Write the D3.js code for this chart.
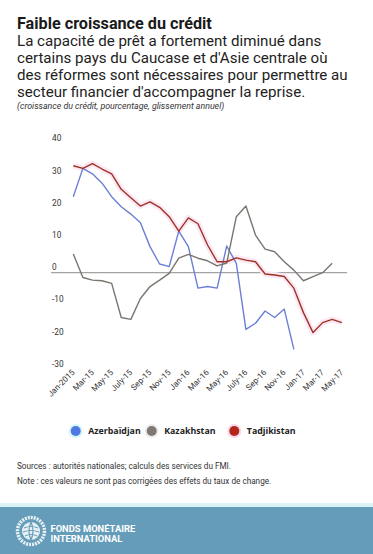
<!DOCTYPE html>
<html>
<head>
<meta charset="utf-8">
<script src="https://cdn.jsdelivr.net/npm/d3@7"></script>
<style>
  html, body { margin: 0; padding: 0; background: #fff; }
  #chart { width: 373px; height: 554px; }
  text { font-family: Roboto, "Noto Sans", sans-serif; }
</style>
</head>
<body>
<div id="chart"></div>
<script>
// ------------- data ----------------- //
const months = [
  '2015-01', '2015-02', '2015-03', '2015-04', '2015-05', '2015-06', '2015-07', '2015-08', '2015-09', '2015-10', '2015-11', '2015-12',
  '2016-01', '2016-02', '2016-03', '2016-04', '2016-05', '2016-06', '2016-07', '2016-08', '2016-09', '2016-10', '2016-11', '2016-12',
  '2017-01', '2017-02', '2017-03', '2017-04', '2017-05'
];
const tickLabels = ['Jan-2015', 'Mar-15', 'May-15', 'July-15', 'Sep-15', 'Nov-15', 'Jan-16', 'Mar-16', 'May-16',
  'July-16', 'Sep-16', 'Nov-16', 'Jan-17', 'Mar-17', 'May-17'];
const yTicks = [40, 30, 20, 10, 0, -10, -20, -30];

// Azerbaidjan: Jan-15 .. Dec-16
const azerbaidjan = [23.6, 32.4, 30.7, 27.8, 23.6, 20.5, 18.2, 15.5, 8.1, 2.7, 1.9, 12.9,
  8.1, -4.8, -4.3, -4.8, 8.3, 2.9, -17.6, -15.7, -11.9, -13.9, -11.3, -23.8];
// Kazakhstan: Jan-15 .. Apr-17
const kazakhstan = [5.8, -1.5, -2.3, -2.5, -3.3, -13.9, -14.5, -8.0, -4.3, -2.3, -0.2, 4.5,
  5.7, 4.5, 3.7, 2.1, 3.0, 17.4, 20.7, 11.7, 7.3, 6.5, 3.4, 0.8, -2.5, -1.2, 0.0, 2.9];
// Tadjikistan: Jan-15 .. May-17
const tadjikistan = [33.2, 32.4, 33.9, 32.2, 30.7, 25.9, 23.3, 20.7, 22.0, 20.3, 17.4, 12.9,
  17.0, 15.2, 8.6, 3.4, 3.4, 4.6, 3.9, 3.4, -0.4, -0.7, -1.2, -4.8, -12.4, -18.6, -15.5, -14.5, -15.5];

const series = [
  { name: 'Azerbaïdjan', values: azerbaidjan, color: '#6b7fd4', halo: null },
  { name: 'Kazakhstan', values: kazakhstan, color: '#7b7570', halo: null },
  { name: 'Tadjikistan', values: tadjikistan, color: '#9e3322', halo: '#fce8f4' }
];

const width = 373, height = 554;

const svg = d3.select('#chart')
  .append('svg')
  .attr('width', width)
  .attr('height', height);

// ------------- titles ----------------- //
svg.append('text')
  .attr('x', 17).attr('y', 29)
  .attr('font-size', 16.2).attr('font-weight', 'bold').attr('fill', '#1a1a1a')
  .text('Faible croissance du crédit');

const subLines = [
  'La capacité de prêt a fortement diminué dans',
  'certains pays du Caucase et d\'Asie centrale où',
  'des réformes sont nécessaires pour permettre au',
  'secteur financier d\'accompagner la reprise.'
];
svg.append('g')
  .selectAll('text')
  .data(subLines)
  .join('text')
  .attr('x', 17)
  .attr('y', (d, i) => 46 + i * 16.9)
  .attr('font-size', 15.1)
  .attr('fill', '#222')
  .text(d => d);

svg.append('text')
  .attr('x', 17).attr('y', 108.5)
  .attr('font-size', 8.8).attr('font-style', 'italic').attr('fill', '#333')
  .text('(croissance du crédit, pourcentage, glissement annuel)');

// ------------- scales ----------------- //
const x = d3.scalePoint().domain(months).range([73.3, 341.8]);
const y = d3.scaleLinear().domain([-30, 40]).range([369.3, 143.9]);

// y labels (sit just above their level)
svg.append('g')
  .selectAll('text')
  .data(yTicks)
  .join('text')
  .attr('x', 52)
  .attr('y', d => y(d) - 2.5)
  .attr('font-size', 8.3)
  .attr('fill', '#333')
  .text(d => d);

// zero line
svg.append('line')
  .attr('x1', 51).attr('x2', 347)
  .attr('y1', y(0)).attr('y2', y(0))
  .attr('stroke', '#a3a3a3').attr('stroke-width', 1.3);

// x labels, rotated
svg.append('g')
  .selectAll('text')
  .data(tickLabels)
  .join('text')
  .attr('transform', (d, i) => 'translate(' + (x(months[i * 2]) + 2) + ',373) rotate(-45)')
  .attr('text-anchor', 'end')
  .attr('font-size', 8.2)
  .attr('fill', '#333')
  .text(d => d);

// ------------- lines ----------------- //
const line = d3.line()
  .x((d, i) => x(months[i]))
  .y(d => y(d));

series.forEach(function (s) {
  if (s.halo) {
    svg.append('path')
      .datum(s.values)
      .attr('fill', 'none')
      .attr('stroke', s.halo)
      .attr('stroke-width', 6)
      .attr('stroke-linejoin', 'round')
      .attr('d', line);
  }
});
series.forEach(function (s) {
  svg.append('path')
    .datum(s.values)
    .attr('fill', 'none')
    .attr('stroke', s.color)
    .attr('stroke-width', 1.4)
    .attr('stroke-linejoin', 'round')
    .attr('d', line);
});

// ------------- legend ----------------- //
const legendX = [75.7, 151.7, 234.3];
const markerFill = ['#4f78e0', '#7d7874', '#b3261a'];
const markerHalo = ['#d2f6fb', '#ececec', '#fbd6ee'];
const legend = svg.append('g')
  .selectAll('g')
  .data(series)
  .join('g')
  .attr('transform', (d, i) => 'translate(' + legendX[i] + ',431)');

legend.append('circle').attr('r', 7).attr('fill', (d, i) => markerHalo[i]);
legend.append('circle').attr('r', 5).attr('fill', (d, i) => markerFill[i]);
legend.append('text')
  .attr('x', 12.5).attr('y', 3.3)
  .attr('font-size', 8.8).attr('font-weight', 'bold').attr('fill', '#222')
  .style('font-family', '"Open Sans", sans-serif')
  .text(d => d.name);

// ------------- sources ----------------- //
svg.append('text')
  .attr('x', 17).attr('y', 468.5)
  .attr('font-size', 8.2).attr('fill', '#333')
  .text('Sources : autorités nationales; calculs des services du FMI.');
svg.append('text')
  .attr('x', 17).attr('y', 484)
  .attr('font-size', 8.2).attr('fill', '#333')
  .text('Note : ces valeurs ne sont pas corrigées des effets du taux de change.');

// ------------- footer band ----------------- //
svg.append('rect')
  .attr('x', 0).attr('y', 503).attr('width', width).attr('height', 4)
  .attr('fill', '#d9f3f7');
svg.append('rect')
  .attr('x', 0).attr('y', 507).attr('width', width).attr('height', height - 507)
  .attr('fill', '#649cba');

const logo = svg.append('g').attr('transform', 'translate(31,531)');
logo.append('circle').attr('r', 13.5).attr('fill', 'none').attr('stroke', '#e9f1f5').attr('stroke-width', 3.5)
  .attr('stroke-dasharray', '2 1');
logo.append('circle').attr('r', 9).attr('fill', '#e9f1f5');
logo.append('path')
  .attr('d', 'M-7,-3 Q0,-6 7,-3 M-8,1 Q0,-2 8,1 M-6,5 Q0,2 6,5 M0,-9 Q-4,0 0,9 M0,-9 Q4,0 0,9')
  .attr('fill', 'none').attr('stroke', '#649cba').attr('stroke-width', 1.2);

svg.append('text')
  .attr('x', 50.5).attr('y', 531.5)
  .attr('font-size', 9.4).attr('font-weight', 'bold').attr('fill', '#fff')
  .text('FONDS MONÉTAIRE');
svg.append('text')
  .attr('x', 50.5).attr('y', 541.8)
  .attr('font-size', 9.4).attr('font-weight', 'bold').attr('fill', '#fff')
  .text('INTERNATIONAL');
</script>
</body>
</html>
